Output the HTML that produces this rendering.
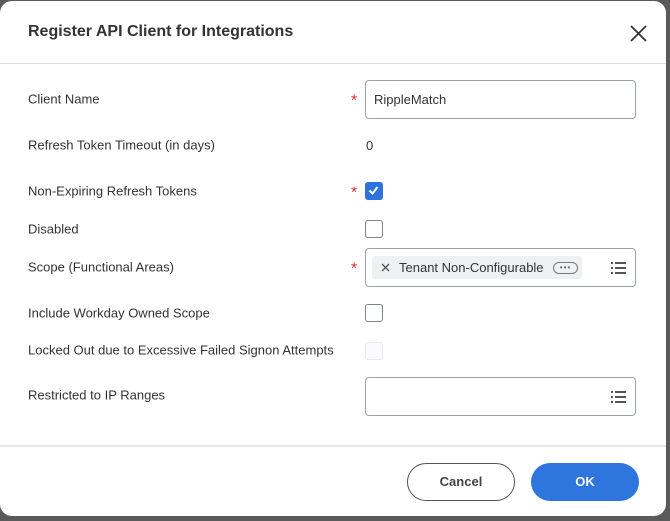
<!DOCTYPE html>
<html><head><meta charset="utf-8"><style>
*{margin:0;padding:0;box-sizing:border-box}
body{width:670px;height:521px;background:#5a5a5a;position:relative;overflow:hidden;font-family:"Liberation Sans",sans-serif;color:#333}
.dlg{position:absolute;left:0;top:1px;width:666px;height:515px;background:#fff;border-radius:12px}
.t{position:absolute;white-space:nowrap}
.lbl{position:absolute;left:28px;font-size:13px;color:#333;transform:translateY(-50%)}
.star{position:absolute;left:351px;color:#d9292b;font-size:16px;transform:translateY(-35%)}
.cb{position:absolute;left:365px;width:18px;height:18px;border:1.5px solid #7b8594;border-radius:3px;background:#fff}
.inp{position:absolute;left:365px;width:271px;border:1px solid #9aa1ab;border-radius:4px;background:#fff}
.ham{position:absolute;right:9px;width:15px}
.ham i{display:block;height:2px;background:#555;margin:3px 0 0 4px;position:relative}
.ham i:before{content:"";position:absolute;left:-4px;top:0;width:2px;height:2px;background:#555}
</style></head><body>
<div class="dlg">
<div class="t" style="left:28px;top:22px;font-size:16px;font-weight:bold;color:#333">Register API Client for Integrations</div>
<svg style="position:absolute;left:630px;top:24px" width="17" height="17"><path d="M1 1L16 16M16 1L1 16" stroke="#333" stroke-width="1.8"/></svg>
<div style="position:absolute;left:0;top:62px;width:666px;height:1px;background:#dcdfe3"></div>

<div class="lbl" style="top:98px">Client Name</div>
<div class="star" style="top:98px">*</div>
<div class="inp" style="top:79px;height:39px"><span class="t" style="left:8px;top:11px;font-size:13px">RippleMatch</span></div>

<div class="lbl" style="top:144px">Refresh Token Timeout (in days)</div>
<div class="t" style="left:366px;top:137px;font-size:13px">0</div>

<div class="lbl" style="top:190px">Non-Expiring Refresh Tokens</div>
<div class="star" style="top:190px">*</div>
<div class="cb" style="top:181px;background:#2f74de;border-color:#2f74de"><svg width="15" height="15" style="position:absolute;left:0;top:0"><path d="M3.5 7.5L6.5 10.5L11.5 4" stroke="#fff" stroke-width="2" fill="none"/></svg></div>

<div class="lbl" style="top:228px">Disabled</div>
<div class="cb" style="top:219px"></div>

<div class="lbl" style="top:266px">Scope (Functional Areas)</div>
<div class="star" style="top:266px">*</div>
<div class="inp" style="top:247px;height:39px">
 <div style="position:absolute;left:6px;top:7px;width:210px;height:23px;background:#eef0f2;border-radius:3px">
  <svg style="position:absolute;left:9px;top:7px" width="9" height="9"><path d="M1 1L8 8M8 1L1 8" stroke="#555" stroke-width="1.3"/></svg>
  <span class="t" style="left:27px;top:4px;font-size:13px">Tenant Non-Configurable</span>
  <div style="position:absolute;left:181px;top:6px;width:25px;height:12px;border:1px solid #777;border-radius:7px;font-size:8px;line-height:9px;text-align:center;letter-spacing:1px;color:#666">•••</div>
 </div>
 <div class="ham" style="top:10px"><i></i><i></i><i></i></div>
</div>

<div class="lbl" style="top:312px">Include Workday Owned Scope</div>
<div class="cb" style="top:303px"></div>

<div class="lbl" style="top:349px">Locked Out due to Excessive Failed Signon Attempts</div>
<div class="cb" style="top:341px;border-color:#e6e8eb;border-width:1px;background:#fafbfc"></div>

<div class="lbl" style="top:394px">Restricted to IP Ranges</div>
<div class="inp" style="top:376px;height:39px"><div class="ham" style="top:10px"><i></i><i></i><i></i></div></div>

<div style="position:absolute;left:0;top:444px;width:666px;height:2px;background:#e3e5e8"></div>
<div style="position:absolute;left:407px;top:462px;width:108px;height:38px;border:1px solid #555;border-radius:19px;text-align:center;line-height:36px;font-size:13px;font-weight:bold;color:#444">Cancel</div>
<div style="position:absolute;left:531px;top:462px;width:108px;height:38px;background:#2e75dd;border-radius:19px;text-align:center;line-height:38px;font-size:13px;font-weight:bold;color:#fff">OK</div>
</div>
</body></html>
